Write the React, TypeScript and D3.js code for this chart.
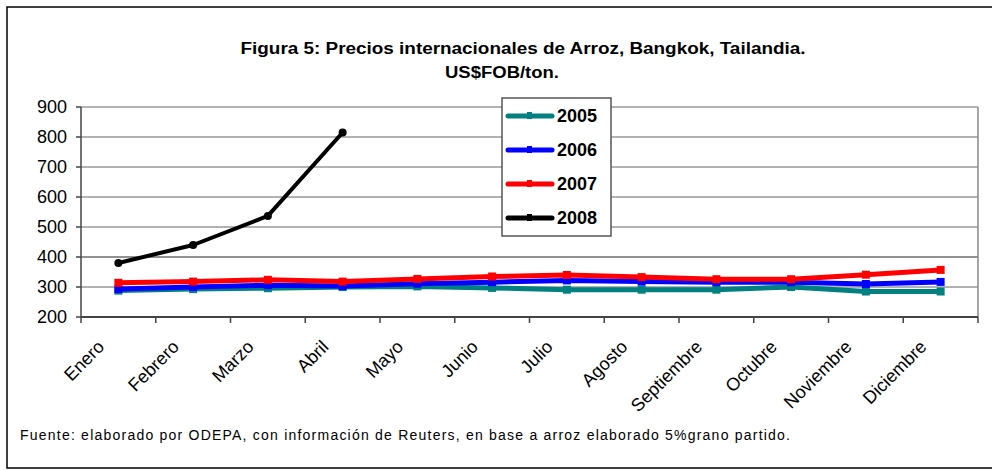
import * as d3 from 'd3';

const months = ['Enero', 'Febrero', 'Marzo', 'Abril', 'Mayo', 'Junio', 'Julio', 'Agosto', 'Septiembre', 'Octubre', 'Noviembre', 'Diciembre'];
const yTicks = [200, 300, 400, 500, 600, 700, 800, 900];

const y2005 = [288, 293, 296, 300, 302, 297, 291, 291, 291, 300, 285, 285];
const y2006 = [293, 300, 306, 303, 311, 316, 322, 318, 316, 316, 310, 317];
const y2007 = [314, 318, 324, 318, 327, 335, 340, 333, 326, 326, 341, 357];
const y2008 = [380, 440, 537, 815];

const seriesNames = ['2005', '2006', '2007', '2008'];
const seriesColors = ['#008080', '#0000ff', '#ff0000', '#000000'];

const W = 992;
const H = 470;
const plot = { left: 81, right: 978, top: 107, bottom: 317 };

export default function App() {
  const x = d3.scaleBand<string>().domain(months).range([plot.left, plot.right]);
  const y = d3.scaleLinear().domain([200, 900]).range([plot.bottom, plot.top]);
  const cx = (m: string) => (x(m) || 0) + x.bandwidth() / 2;

  const allSeries = [y2005, y2006, y2007, y2008];
  const line = d3.line<number>()
    .x((_, i) => cx(months[i]))
    .y(d => y(d));

  const legendRows = d3.scalePoint<string>().domain(seriesNames).range([116, 218]);

  return (
    <svg width={W} height={H} style={{ position: 'absolute', left: 0, top: 0, fontFamily: 'Arial, "Liberation Sans", sans-serif' }}>
      <rect x={0} y={0} width={W} height={H} fill="#fff" />
      <path d="M992,7 H7 V468 H992" fill="none" stroke="#000" strokeWidth={1.5} />

      <text x={523} y={54} textAnchor="middle" fontSize={16} fontWeight="bold" textLength={565} lengthAdjust="spacingAndGlyphs">Figura 5: Precios internacionales de Arroz, Bangkok, Tailandia.</text>
      <text x={502} y={78} textAnchor="middle" fontSize={16} fontWeight="bold" textLength={114} lengthAdjust="spacingAndGlyphs">US$FOB/ton.</text>

      {/* gridlines */}
      {yTicks.filter(t => t > 200).map(t => (
        <line key={t} x1={plot.left} x2={plot.right} y1={y(t)} y2={y(t)} stroke={t === 400 ? '#222' : '#666'} strokeWidth={1} />
      ))}
      <line x1={plot.right} x2={plot.right} y1={plot.top} y2={plot.bottom} stroke="#888" strokeWidth={1.5} />

      {/* axes */}
      <line x1={plot.left} x2={plot.right} y1={plot.bottom} y2={plot.bottom} stroke="#444" strokeWidth={2} />
      <line x1={plot.left} x2={plot.left} y1={plot.top} y2={plot.bottom} stroke="#444" strokeWidth={1.5} />
      {yTicks.map(t => (
        <g key={t}>
          <line x1={plot.left - 5} x2={plot.left} y1={y(t)} y2={y(t)} stroke="#444" strokeWidth={1.5} />
          <text x={67} y={y(t) + 6} textAnchor="end" fontSize={18}>{t}</text>
        </g>
      ))}
      {months.concat(['']).map((m, i) => {
        const xt = plot.left + i * x.bandwidth();
        return <line key={i} x1={xt} x2={xt} y1={plot.bottom} y2={plot.bottom + 6} stroke="#444" strokeWidth={1.5} />;
      })}
      {months.map(m => (
        <text key={m} transform={`translate(${cx(m) - 13},${plot.bottom + 31}) rotate(-45)`} textAnchor="end" fontSize={18}>{m}</text>
      ))}

      {/* series */}
      {allSeries.map((s, k) => (
        <g key={k}>
          <path d={line(s) || ''} fill="none" stroke={seriesColors[k]} strokeWidth={k === 3 ? 4 : 5} strokeLinejoin="round" />
          {s.map((v, i) => k === 3
            ? <circle key={i} cx={cx(months[i])} cy={y(v)} r={4} fill={seriesColors[k]} />
            : <rect key={i} x={cx(months[i]) - 4} y={y(v) - 4} width={8} height={8} fill={seriesColors[k]} />)}
        </g>
      ))}

      {/* legend */}
      <rect x={502} y={98} width={109} height={138} fill="#fff" stroke="#555" strokeWidth={1.5} />
      {seriesNames.map((n, k) => {
        const ly = legendRows(n) || 0;
        return (
          <g key={n}>
            <line x1={508} x2={552} y1={ly} y2={ly} stroke={seriesColors[k]} strokeWidth={5} strokeLinecap="round" />
            <rect x={527} y={ly - 4} width={5} height={7} fill={seriesColors[k]} />
            <text x={557} y={ly + 6} fontSize={18} fontWeight="bold">{n}</text>
          </g>
        );
      })}

      <text x={20} y={440} fontSize={14} textLength={770} lengthAdjust="spacing">Fuente: elaborado por ODEPA, con información de Reuters, en base a arroz elaborado 5%grano partido.</text>
    </svg>
  );
}
